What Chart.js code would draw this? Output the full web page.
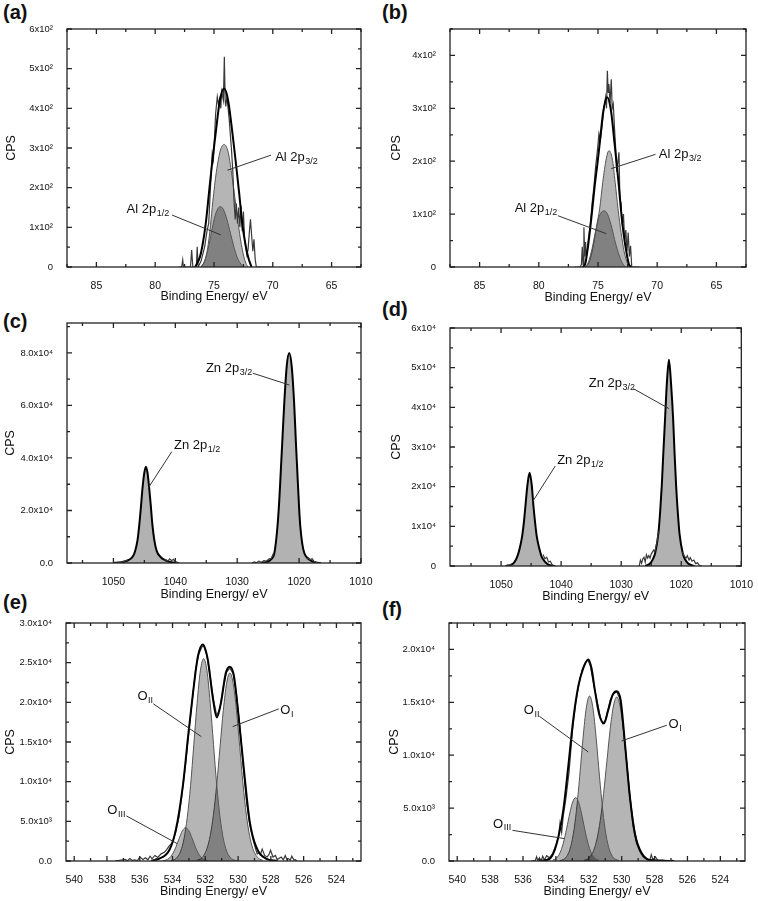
<!DOCTYPE html>
<html>
<head>
<meta charset="utf-8">
<title>XPS spectra</title>
<script src="https://cdn.jsdelivr.net/npm/chart.js@4.4.1/dist/chart.umd.min.js"></script>
<style>
  body { margin: 0; background: #fff; width: 758px; height: 901px; position: relative; overflow: hidden; }
  canvas { position: absolute; }
  .tag { position: absolute; font-family: "Liberation Sans", Arial, sans-serif; font-weight: bold; font-size: 20px; color: #111; line-height: 1; }
</style>
</head>
<body>
<div class="tag" style="left:3px;top:2px">(a)</div>
<div class="tag" style="left:382px;top:2px">(b)</div>
<div class="tag" style="left:3px;top:311px">(c)</div>
<div class="tag" style="left:382px;top:299px">(d)</div>
<div class="tag" style="left:3px;top:592px">(e)</div>
<div class="tag" style="left:382px;top:599px">(f)</div>

<canvas id="chart-a" width="379" height="310" style="left:0;top:0"></canvas>
<canvas id="chart-b" width="379" height="310" style="left:379px;top:0"></canvas>
<canvas id="chart-c" width="379" height="310" style="left:0;top:295px"></canvas>
<canvas id="chart-d" width="379" height="310" style="left:379px;top:295px"></canvas>
<canvas id="chart-e" width="379" height="306" style="left:0;top:595px"></canvas>
<canvas id="chart-f" width="379" height="306" style="left:379px;top:595px"></canvas>

<script>
// ---------------- Tick labels ----------------
const alXTicks = [85, 80, 75, 70, 65];
const znXTicks = [1050, 1040, 1030, 1020, 1010];
const oXTicks = [540, 538, 536, 534, 532, 530, 528, 526, 524];

const aYTicks = [0, 100, 200, 300, 400, 500, 600];
const aYLabels = ["0", "1x10²", "2x10²", "3x10²", "4x10²", "5x10²", "6x10²"];
const bYTicks = [0, 100, 200, 300, 400];
const bYLabels = ["0", "1x10²", "2x10²", "3x10²", "4x10²"];
const cYTicks = [0, 20000, 40000, 60000, 80000];
const cYLabels = ["0.0", "2.0x10⁴", "4.0x10⁴", "6.0x10⁴", "8.0x10⁴"];
const dYTicks = [0, 10000, 20000, 30000, 40000, 50000, 60000];
const dYLabels = ["0", "1x10⁴", "2x10⁴", "3x10⁴", "4x10⁴", "5x10⁴", "6x10⁴"];
const eYTicks = [0, 5000, 10000, 15000, 20000, 25000, 30000];
const eYLabels = ["0.0", "5.0x10³", "1.0x10⁴", "1.5x10⁴", "2.0x10⁴", "2.5x10⁴", "3.0x10⁴"];
const fYTicks = [0, 5000, 10000, 15000, 20000];
const fYLabels = ["0.0", "5.0x10³", "1.0x10⁴", "1.5x10⁴", "2.0x10⁴"];

// ---------------- (a) Al 2p, [binding energy, CPS] ----------------
const aEnvelope = [[76.6,0],[76.2,25],[76.0,51],[75.7,110],[75.43,186],[75.15,265],[74.86,337],[74.5,420],[74.14,450],[73.8,420],[73.43,337],[73.15,265],[72.86,186],[72.6,110],[72.29,51],[72.05,20],[71.8,0]];
const aP32 = [[76.1,0],[75.8,15],[75.5,55],[75.3,105],[75.1,165],[74.8,240],[74.45,295],[74.14,309],[73.8,290],[73.5,235],[73.2,169],[72.9,100],[72.6,45],[72.3,10],[72.1,0]];
const aP12 = [[76.1,0],[75.8,15],[75.5,45],[75.2,90],[74.9,130],[74.6,150],[74.43,152],[74.2,145],[73.9,120],[73.6,85],[73.3,50],[73.0,22],[72.7,7],[72.5,0]];
const aRaw = [[78.0,0],[77.75,0],[77.66,18],[77.6,0],[77.0,0],[76.9,43],[76.8,0],[76.5,0],[76.43,51],[76.35,0],[76.1,15],[75.8,50],[75.6,90],[75.45,110],[75.3,200],[75.15,286],[75.05,270],[74.95,330],[74.86,387],[74.72,429],[74.62,410],[74.52,424],[74.42,400],[74.35,442],[74.2,420],[74.12,530],[74.05,420],[74.0,405],[73.9,429],[73.8,400],[73.7,370],[73.6,330],[73.5,290],[73.4,240],[73.3,170],[73.2,120],[73.1,160],[73.0,110],[72.9,150],[72.8,100],[72.7,155],[72.6,90],[72.5,140],[72.4,70],[72.3,50],[72.2,30],[72.1,45],[72.0,85],[71.9,120],[71.8,80],[71.7,40],[71.6,70],[71.5,20],[71.4,0],[70.0,0]];

// ---------------- (b) Al 2p ----------------
const bEnvelope = [[76.3,0],[76.08,6],[75.9,30],[75.71,63],[75.5,105],[75.29,151],[75.05,195],[74.86,233],[74.55,295],[74.22,321],[73.9,295],[73.6,233],[73.4,190],[73.23,151],[73.05,105],[72.84,63],[72.6,28],[72.4,6],[72.2,0]];
const bP32 = [[76.0,0],[75.7,12],[75.4,40],[75.1,80],[74.86,110],[74.6,160],[74.3,205],[74.07,220],[73.8,205],[73.55,160],[73.31,110],[73.05,65],[72.8,30],[72.5,6],[72.3,0]];
const bP12 = [[76.1,0],[75.8,10],[75.5,35],[75.2,68],[74.9,95],[74.65,105],[74.44,106],[74.2,100],[73.9,80],[73.6,52],[73.3,28],[73.0,10],[72.7,0]];
const bRaw = [[77.0,0],[76.5,0],[76.4,5],[76.33,38],[76.26,5],[76.19,75],[76.12,20],[76.05,47],[75.98,20],[75.9,30],[75.8,55],[75.65,80],[75.5,120],[75.35,150],[75.2,190],[75.05,220],[74.92,252],[74.8,240],[74.64,270],[74.5,300],[74.36,321],[74.28,300],[74.21,371],[74.14,330],[74.08,346],[73.98,310],[73.88,355],[73.8,300],[73.71,308],[73.6,260],[73.51,226],[73.42,180],[73.32,198],[73.23,217],[73.15,130],[73.05,120],[72.95,80],[72.85,100],[72.75,50],[72.65,70],[72.55,30],[72.45,65],[72.35,20],[72.25,40],[72.15,0],[71.5,0]];

// ---------------- (c) Zn 2p ----------------
const cP32 = [[1026,0],[1025.1,500],[1024.5,1500],[1024.0,3700],[1023.5,13800],[1023.2,24000],[1022.95,35400],[1022.7,47000],[1022.4,60800],[1022.0,75000],[1021.6,80000],[1021.2,75000],[1020.8,60800],[1020.5,45000],[1020.3,35400],[1020.0,21000],[1019.8,13800],[1019.5,7500],[1019.15,3700],[1018.6,1800],[1018.1,900],[1017.3,200],[1016.5,0]];
const cP12 = [[1050,0],[1049,200],[1048.3,500],[1047.5,1200],[1046.9,2400],[1046.5,4500],[1046.1,8800],[1045.8,15000],[1045.55,21500],[1045.3,28500],[1045.0,34500],[1044.75,36700],[1044.5,34500],[1044.2,28000],[1043.95,21500],[1043.7,14500],[1043.4,8800],[1043.0,4500],[1042.35,2200],[1041.7,1100],[1041.0,500],[1040.0,100],[1039.5,0]];
const cRaw = [[1049.8,0],[1049.3,300],[1048.9,200],[1048.5,600],[1048.1,700],[1047.7,1200],[1047.6,null],
  [1041.8,1000],[1041.5,1300],[1041.2,700],[1040.9,1600],[1040.6,900],[1040.3,1400],[1040.0,500],[1039.7,300],[1039.4,0],[1039.3,null],
  [1027.6,0],[1027.2,400],[1026.9,100],[1026.5,700],[1026.1,300],[1025.7,900],[1025.3,700],[1024.9,1500],[1024.5,1800],[1024.1,3900],[1024.0,null],
  [1018.8,1500],[1018.5,2000],[1018.2,1200],[1017.9,1700],[1017.6,600],[1017.3,300],[1017.0,0]];

// ---------------- (d) Zn 2p ----------------
const dP32 = [[1026,0],[1025.15,700],[1024.7,1800],[1024.35,3200],[1023.8,8300],[1023.5,14000],[1023.25,20100],[1023.0,28000],[1022.7,37000],[1022.4,46000],[1022.05,52000],[1021.7,46000],[1021.35,37000],[1021.1,28000],[1020.85,20100],[1020.55,13000],[1020.3,8300],[1019.75,3200],[1019.3,1500],[1018.9,700],[1018.3,200],[1017.8,0]];
const dP12 = [[1049.2,0],[1048.4,250],[1047.8,900],[1047.3,2350],[1046.9,4400],[1046.5,7400],[1046.2,11000],[1045.95,15000],[1045.6,20500],[1045.25,23500],[1044.9,20500],[1044.6,15000],[1044.3,10500],[1044.05,7400],[1043.6,4200],[1043.25,2350],[1042.7,1100],[1042.2,400],[1041.5,100],[1041,0]];
const dRaw = [[1049.3,0],[1048.9,250],[1048.6,100],[1048.3,500],[1048.2,null],
  [1043.0,2900],[1042.7,1800],[1042.4,2200],[1042.1,1000],[1041.8,1200],[1041.5,300],[1041.2,0],[1041.1,null],
  [1027.0,0],[1026.8,1500],[1026.6,700],[1026.4,1800],[1026.2,2200],[1026.0,1000],[1025.8,2800],[1025.6,2000],[1025.4,2600],[1025.2,2000],[1025.0,3000],[1024.8,3500],[1024.6,4000],[1024.4,3600],[1024.2,5000],[1024.0,6200],[1023.8,8800],[1023.7,null],
  [1019.8,3500],[1019.5,2500],[1019.2,2000],[1019.0,2600],[1018.7,1500],[1018.5,2100],[1018.2,1200],[1017.9,1500],[1017.6,600],[1017.3,800],[1017.0,200],[1016.6,0]];

// ---------------- (e) O 1s ----------------
const eEnvelope = [[535.3,50],[534.8,300],[534.2,1350],[533.8,3900],[533.35,9800],[533.05,15700],[532.75,21200],[532.45,25800],[532.15,27300],[531.85,25400],[531.55,20700],[531.3,18100],[531.05,19900],[530.75,23700],[530.5,24500],[530.25,23300],[529.95,17800],[529.6,10600],[529.3,5100],[528.9,1800],[528.3,300],[527.6,0]];
const eO2 = [[534.1,50],[533.9,170],[533.7,500],[533.5,1250],[533.3,2800],[533.1,5500],[532.9,9500],[532.7,14700],[532.5,19900],[532.3,24000],[532.1,25500],[531.9,24000],[531.7,19900],[531.5,14700],[531.3,9500],[531.1,5500],[530.9,2800],[530.7,1250],[530.5,500],[530.3,170],[530.1,50]];
const eO1 = [[532.5,100],[532.3,260],[532.1,700],[531.9,1550],[531.7,3200],[531.5,5900],[531.3,9700],[531.1,14400],[530.9,19000],[530.7,22400],[530.5,23700],[530.3,22400],[530.1,19000],[529.9,14400],[529.7,9700],[529.5,5900],[529.3,3200],[529.1,1550],[528.9,700],[528.7,260],[528.5,100]];
const eO3 = [[534.6,35],[534.4,120],[534.2,360],[534.0,870],[533.8,1730],[533.6,2830],[533.4,3800],[533.2,4200],[533.0,3800],[532.8,2830],[532.6,1730],[532.4,870],[532.2,360],[532.0,120],[531.8,35]];
const eRaw = [[537.5,0],[536.9,200],[536.75,40],[536.6,300],[536.45,80],[536.3,150],[536.15,30],[536.0,500],[535.8,200],[535.65,400],[535.5,150],[535.37,600],[535.25,300],[535.07,700],[534.9,450],[534.7,900],[534.5,1100],[534.37,1400],[534.2,1900],[534.0,2300],[533.8,3700],[533.6,5600],[533.4,8900],[533.2,12300],[533.0,16400],[532.8,20200],[532.6,24000],[532.4,26100],[532.2,27000],[532.1,27100],[531.9,25900],[531.7,23200],[531.5,20300],[531.3,18300],[531.1,19300],[530.9,21900],[530.7,23800],[530.5,24300],[530.3,23600],[530.1,21000],[529.9,17200],[529.7,12300],[529.5,7800],[529.3,4700],[529.1,2800],[528.93,1500],[528.83,900],[528.73,1100],[528.63,800],[528.53,1500],[528.38,700],[528.23,500],[528.12,800],[528.02,1350],[527.87,500],[527.72,700],[527.62,200],[527.52,300],[527.36,500],[527.24,150],[527.12,700],[527.02,200],[526.92,300],[526.82,100],[526.72,600],[526.6,150],[526.51,180],[526.41,0]];

// ---------------- (f) O 1s ----------------
const fEnvelope = [[535.0,0],[534.36,230],[533.95,1650],[533.55,4800],[533.25,8900],[532.95,13300],[532.64,16500],[532.34,18200],[532.03,19050],[531.83,18200],[531.63,16150],[531.37,13900],[531.08,13000],[530.82,14250],[530.55,15700],[530.31,16050],[530.06,15200],[529.8,11100],[529.5,6050],[529.2,2600],[528.77,700],[528.06,60],[526.85,0]];
const fO2 = [[533.75,40],[533.55,140],[533.35,415],[533.15,1090],[532.95,2460],[532.75,4780],[532.55,8020],[532.35,11600],[532.15,14490],[531.95,15600],[531.75,14490],[531.55,11600],[531.35,8020],[531.15,4780],[530.95,2460],[530.75,1090],[530.55,415],[530.35,140],[530.15,40]];
const fO1 = [[532.3,60],[532.1,170],[531.9,450],[531.7,1020],[531.5,2090],[531.3,3860],[531.1,6370],[530.9,9410],[530.7,12420],[530.5,14660],[530.3,15500],[530.1,14660],[529.9,12420],[529.7,9410],[529.5,6370],[529.3,3860],[529.1,2090],[528.9,1020],[528.7,450],[528.5,170],[528.3,60]];
const fO3 = [[534.2,70],[534.0,230],[533.8,620],[533.6,1410],[533.4,2660],[533.2,4180],[533.0,5480],[532.8,6000],[532.6,5480],[532.4,4180],[532.2,2660],[532.0,1410],[531.8,620],[531.6,230],[531.4,70]];
const fRaw = [[535.5,0],[535.25,50],[535.17,400],[535.1,0],[535.0,300],[534.9,0],[534.8,450],[534.7,100],[534.56,500],[534.4,300],[534.2,700],[534.0,1500],[533.85,2200],[533.75,3600],[533.65,2700],[533.55,4300],[533.4,5800],[533.2,8400],[533.0,12200],[532.8,14900],[532.6,16800],[532.4,18100],[532.2,18800],[532.05,19000],[531.9,18400],[531.75,17100],[531.6,15900],[531.45,14800],[531.3,13600],[531.15,13000],[531.0,13300],[530.85,14200],[530.7,15200],[530.5,15800],[530.3,16000],[530.1,15300],[529.9,12600],[529.7,9400],[529.5,6000],[529.3,3300],[529.1,1700],[528.9,900],[528.7,400],[528.45,150],[528.3,0],[528.2,600],[528.1,100],[527.95,400],[527.8,50],[527.5,80],[527.2,0],[526.9,60],[526.8,0]];

// ---------------- Styles ----------------
const FONT = '"Liberation Sans", Arial, sans-serif';
Chart.defaults.font.family = FONT;
Chart.defaults.color = "#111";

const STYLES = {
  envelope: { borderColor: "#000", borderWidth: 2, fill: false, tension: 0.4, cubicInterpolationMode: "monotone" },
  raw: { borderColor: "#3a3a3a", borderWidth: 1.2, fill: false, tension: 0 },
  comp: { borderColor: "#555", borderWidth: 1, fill: "origin", backgroundColor: "rgba(0,0,0,0.29)", tension: 0.4, cubicInterpolationMode: "monotone" },
  peak: { borderColor: "#000", borderWidth: 2, fill: "origin", backgroundColor: "rgba(0,0,0,0.3)", tension: 0.4, cubicInterpolationMode: "monotone" }
};

const panels = [
  { id: "a", box: [0, 0, 379, 310], plot: [67, 29, 361, 267], x: [62.5, 87.5], y: [0, 600],
    xTicks: alXTicks, yTicks: aYTicks, yLabels: aYLabels, xTitleY: 297, yTitleX: 12,
    series: [[aEnvelope, "envelope"], [aRaw, "raw"], [aP12, "comp"], [aP32, "comp"]],
    notes: [
      { text: "Al 2p", sub: "3/2", at: [69.8, 277], from: [70.15, 282], to: [73.86, 244] },
      { text: "Al 2p", sub: "1/2", at: [82.43, 146], from: [78.57, 131], to: [74.43, 81] }
    ] },
  { id: "b", box: [379, 0, 379, 310], plot: [450, 29, 746, 267], x: [62.5, 87.5], y: [0, 450],
    xTicks: alXTicks, yTicks: bYTicks, yLabels: bYLabels, xTitleY: 298, yTitleX: 397,
    series: [[bEnvelope, "envelope"], [bRaw, "raw"], [bP12, "comp"], [bP32, "comp"]],
    notes: [
      { text: "Al 2p", sub: "3/2", at: [69.86, 212], from: [70.14, 213], to: [73.88, 186] },
      { text: "Al 2p", sub: "1/2", at: [82.04, 111], from: [78.39, 97], to: [74.3, 63] }
    ] },
  { id: "c", box: [0, 295, 379, 310], plot: [67, 323, 361, 563], x: [1010, 1057.5], y: [0, 91400],
    xTicks: znXTicks, yTicks: cYTicks, yLabels: cYLabels, xTitleY: 595, yTitleX: 11,
    series: [[cRaw, "raw"], [cP12, "peak"], [cP32, "peak"]],
    notes: [
      { text: "Zn 2p", sub: "3/2", at: [1035.06, 74200], from: [1027.5, 72300], to: [1021.58, 67800] },
      { text: "Zn 2p", sub: "1/2", at: [1040.2, 44700], from: [1040.57, 42400], to: [1044.4, 28500] }
    ] },
  { id: "d", box: [379, 295, 379, 310], plot: [450, 328, 747, 566], x: [1010, 1058.5], y: [0, 60000],
    xTicks: znXTicks, yTicks: dYTicks, yLabels: dYLabels, xTitleY: 597, yTitleX: 397,
    series: [[dRaw, "raw"], [dP12, "peak"], [dP32, "peak"]],
    notes: [
      { text: "Zn 2p", sub: "3/2", at: [1035.4, 46100], from: [1027.96, 44700], to: [1022.07, 39700] },
      { text: "Zn 2p", sub: "1/2", at: [1040.66, 26500], from: [1040.98, 25200], to: [1044.76, 16200] }
    ] },
  { id: "e", box: [0, 595, 379, 306], plot: [66, 623, 361, 861], x: [522.5, 540.5], y: [0, 30000],
    xTicks: oXTicks, yTicks: eYTicks, yLabels: eYLabels, xTitleY: 892, yTitleX: 11,
    series: [[eEnvelope, "envelope"], [eRaw, "raw"], [eO3, "comp"], [eO2, "comp"], [eO1, "comp"]],
    notes: [
      { text: "O", sub: "II", at: [536.14, 20700], from: [535.17, 19810], to: [532.24, 15670] },
      { text: "O", sub: "I", at: [527.42, 19000], from: [527.52, 19170], to: [530.33, 16940] },
      { text: "O", sub: "III", at: [537.98, 6350], from: [536.82, 5690], to: [533.72, 2200] }
    ] },
  { id: "f", box: [379, 595, 379, 306], plot: [449, 623, 745, 861], x: [522.5, 540.5], y: [0, 22500],
    xTicks: oXTicks, yTicks: fYTicks, yLabels: fYLabels, xTitleY: 892, yTitleX: 395,
    series: [[fEnvelope, "envelope"], [fRaw, "raw"], [fO3, "comp"], [fO2, "comp"], [fO1, "comp"]],
    notes: [
      { text: "O", sub: "II", at: [535.95, 14250], from: [535.01, 13690], to: [532.03, 10310] },
      { text: "O", sub: "I", at: [527.15, 12950], from: [527.25, 12840], to: [530.0, 11350] },
      { text: "O", sub: "III", at: [537.82, 3500], from: [536.64, 2900], to: [533.5, 2120] }
    ] }
];

// ---------------- Plugins ----------------
// frame with inward major/minor ticks on all four sides
const frameTicks = {
  id: "frameTicks",
  afterDraw(chart, args, opts) {
    const { ctx, chartArea: { left, top, right, bottom }, scales: { x, y } } = chart;
    ctx.save();
    ctx.strokeStyle = "#222";
    ctx.lineWidth = 1.3;
    ctx.strokeRect(left, top, right - left, bottom - top);
    const marks = (values, scale) => {
      const step = Math.abs(values[1] - values[0]) / 2;
      const out = [];
      const n0 = Math.ceil(scale.min / step), n1 = Math.floor(scale.max / step);
      for (let n = n0; n <= n1; n++) {
        const v = n * step;
        const major = values.some(m => Math.abs(m - v) < step / 100);
        out.push([scale.getPixelForValue(v), major ? 5 : 3]);
      }
      return out;
    };
    ctx.beginPath();
    marks(opts.xTicks, x).forEach(([px, len]) => {
      ctx.moveTo(px, bottom); ctx.lineTo(px, bottom - len);
      ctx.moveTo(px, top); ctx.lineTo(px, top + len);
    });
    marks(opts.yTicks, y).forEach(([py, len]) => {
      ctx.moveTo(left, py); ctx.lineTo(left + len, py);
      ctx.moveTo(right, py); ctx.lineTo(right - len, py);
    });
    ctx.stroke();
    ctx.restore();
  }
};

// peak labels with subscripts and leader lines
const peakNotes = {
  id: "peakNotes",
  afterDatasetsDraw(chart, args, opts) {
    const { ctx, scales: { x, y } } = chart;
    ctx.save();
    (opts.notes || []).forEach(n => {
      ctx.strokeStyle = "#333";
      ctx.lineWidth = 1;
      ctx.beginPath();
      ctx.moveTo(x.getPixelForValue(n.from[0]), y.getPixelForValue(n.from[1]));
      ctx.lineTo(x.getPixelForValue(n.to[0]), y.getPixelForValue(n.to[1]));
      ctx.stroke();
      const tx = x.getPixelForValue(n.at[0]);
      const ty = y.getPixelForValue(n.at[1]);
      ctx.fillStyle = "#111";
      ctx.textBaseline = "middle";
      ctx.textAlign = "left";
      ctx.font = `13px ${FONT}`;
      ctx.fillText(n.text, tx, ty);
      const w = ctx.measureText(n.text).width;
      ctx.font = `9px ${FONT}`;
      ctx.fillText(n.sub, tx + w + 0.5, ty + 4);
    });
    ctx.restore();
  }
};

// ---------------- Charts ----------------
function createChart(p) {
  const [bx, by, bw, bh] = p.box;
  const [L, T, R, B] = p.plot;
  const ctx = document.getElementById(`chart-${p.id}`).getContext("2d");
  const datasets = p.series.map(([pairs, kind]) => Object.assign({
    data: pairs.map(([be, cps]) => ({ x: be, y: cps })),
    pointRadius: 0,
    spanGaps: false
  }, STYLES[kind]));

  return new Chart(ctx, {
    type: "line",
    data: { datasets },
    options: {
      responsive: false,
      animation: false,
      layout: { padding: { left: 0, top: T - by, right: bx + bw - R, bottom: 0 } },
      plugins: {
        legend: { display: false },
        tooltip: { enabled: false },
        frameTicks: { xTicks: p.xTicks, yTicks: p.yTicks },
        peakNotes: { notes: p.notes }
      },
      scales: {
        x: {
          type: "linear",
          reverse: true,
          min: p.x[0],
          max: p.x[1],
          grid: { display: false },
          border: { display: false },
          afterBuildTicks: s => { s.ticks = p.xTicks.map(v => ({ value: v })); },
          afterFit: s => { s.height = by + bh - B; },
          ticks: { autoSkip: false, maxRotation: 0, padding: 5, font: { size: 10.5 }, color: "#111", callback: v => String(v) },
          title: { display: true, text: "Binding Energy/ eV", font: { size: 12.5 }, color: "#111",
                   padding: { top: 0, bottom: Math.max(0, by + bh - p.xTitleY - 7.5) } }
        },
        y: {
          type: "linear",
          min: p.y[0],
          max: p.y[1],
          grid: { display: false },
          border: { display: false },
          afterBuildTicks: s => { s.ticks = p.yTicks.map(v => ({ value: v })); },
          afterFit: s => { s.width = L - bx; },
          ticks: { autoSkip: false, padding: 6, font: { size: 9.5 }, color: "#111",
                   callback: v => p.yLabels[p.yTicks.indexOf(v)] },
          title: { display: true, text: "CPS", font: { size: 12.5 }, color: "#111",
                   padding: { top: Math.max(0, p.yTitleX - bx - 7.5), bottom: 0 } }
        }
      }
    },
    plugins: [frameTicks, peakNotes]
  });
}

const charts = panels.map(createChart);
</script>
</body>
</html>
